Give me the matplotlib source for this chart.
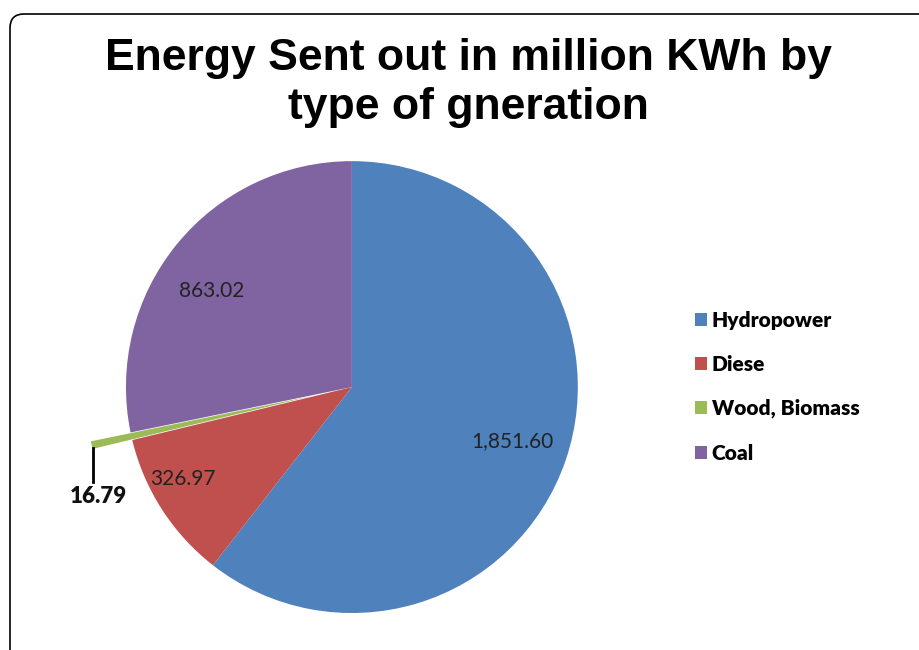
import matplotlib.pyplot as plt
from matplotlib.patches import FancyBboxPatch

categories = ['Hydropower', 'Diese', 'Wood, Biomass', 'Coal']
values = [1851.60, 326.97, 16.79, 863.02]
colors = ['#4F81BD', '#C0504D', '#9BBB59', '#8064A2']
explode = [0, 0, 0.18, 0]

fig = plt.figure(figsize=(9.2, 6.5), dpi=100)

# rounded frame, only top/left edges visible
frame = FancyBboxPatch((10, -20), 960, 656, boxstyle='round,pad=0,rounding_size=14',
                       transform=None, facecolor='none', edgecolor='black', linewidth=1.2)
fig.patches.append(frame)

fig.text(0.509, 0.873, 'Energy Sent out in million KWh by\ntype of gneration',
         ha='center', va='center', fontsize=32, fontweight='bold',
         family='Liberation Sans', linespacing=1.25)

ax = fig.add_axes([0.0755, -0.03, 0.614, 0.869])
wedges, _ = ax.pie(values, colors=colors, explode=explode, startangle=90,
                   counterclock=False, radius=1, wedgeprops=dict(linewidth=0))
ax.set_xlim(-1.25, 1.25)
ax.set_ylim(-1.25, 1.25)
ax.set_aspect('equal')

lab_font = dict(family='Lato', fontsize=15, color='#222222')
ax.text(0.71, -0.24, f'{values[0]:,.2f}', ha='center', va='center', **lab_font)
ax.text(-0.75, -0.405, f'{values[1]:,.2f}', ha='center', va='center', **lab_font)
ax.text(-0.62, 0.425, f'{values[3]:,.2f}', ha='center', va='center', **lab_font)

# leader line + label for the small slice
ax.plot([-1.146, -1.146], [-0.27, -0.42], color='black', lw=2)
ax.text(-1.124, -0.485, f'{values[2]:,.2f}', ha='center', va='center',
        family='Lato', fontsize=16, fontweight='heavy', color='#111111')

fig.legend(wedges, categories, loc='center left', bbox_to_anchor=(0.735, 0.405),
           frameon=False, prop=dict(family='Lato', weight='heavy', size=15),
           handlelength=0.6, handleheight=0.6, handletextpad=0.2, labelspacing=1.2)

fig.savefig('out.png', dpi=100)
